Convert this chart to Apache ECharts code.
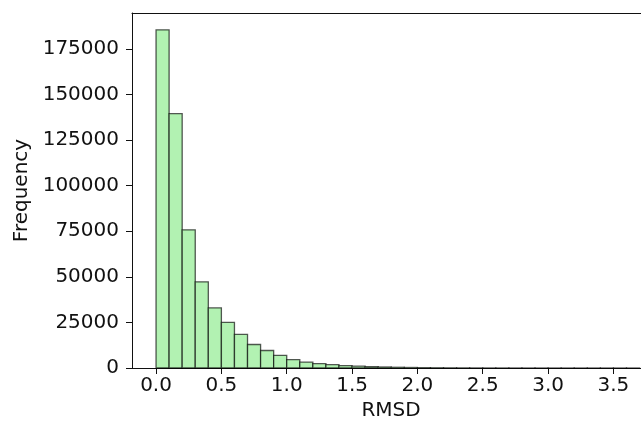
<!DOCTYPE html>
<html>
<head>
<meta charset="utf-8">
<script src="https://cdn.jsdelivr.net/npm/echarts@6/dist/echarts.min.js"></script>
<style>
  html, body { margin: 0; padding: 0; background: #fff; }
  #main { width: 641px; height: 425px; }
</style>
</head>
<body>
<div id="main"></div>
<script>
var myChart = echarts.init(document.getElementById('main'));

// histogram of RMSD, bins of width 0.1 starting at 0
var binWidth = 0.1
var binCounts = [
	185500, 139500, 75800, 47300, 33000, 25000, 18400, 12900, 9600, 6900,
	4600, 3200, 2400, 1800, 1350, 1000, 760, 560, 400, 290,
	200, 140, 95, 65, 45, 30, 20, 14, 10, 7,
	5, 3, 2, 2, 1, 1, 1
]
var xTickValues = [0, 0.5, 1.0, 1.5, 2.0, 2.5, 3.0, 3.5]
var yTickValues = [0, 25000, 50000, 75000, 100000, 125000, 150000, 175000]

var bins = []
for (let i = 0; i < binCounts.length; i++) {
	bins.push([i * binWidth, (i + 1) * binWidth, binCounts[i]])
}

var font = 'DejaVu Sans'
var xMin = -0.184
var xMax = 3.711  // the plot is cut off at the right edge of the picture

var option = {
	backgroundColor: '#fff',
	animation: false,
	grid: {
		left: 132,
		top: 13,
		right: 0,
		height: 355,
		outerBoundsMode: 'none',
		show: false
	},
	xAxis: [{
		type: 'value',
		min: xMin,
		max: xMax,
		name: 'RMSD',
		nameLocation: 'middle',
		nameGap: 33,
		nameTextStyle: { fontFamily: font, fontSize: 20, color: '#111', padding: [0, 0, 0, 9] },
		splitLine: { show: false },
		axisLine: { show: true, onZero: false, lineStyle: { color: '#111', width: 1 } },
		axisTick: { show: true, length: 6, lineStyle: { color: '#111' }, customValues: xTickValues },
		axisLabel: {
			fontFamily: font, fontSize: 20, color: '#111', margin: 8,
			customValues: xTickValues,
			formatter: function (v) { return v.toFixed(1) }
		}
	}, {
		// top spine only
		type: 'value',
		position: 'top',
		min: xMin,
		max: xMax,
		splitLine: { show: false },
		axisLine: { show: true, onZero: false, lineStyle: { color: '#111', width: 1 } },
		axisTick: { show: false },
		axisLabel: { show: false }
	}],
	yAxis: {
		type: 'value',
		min: 0,
		max: 194750,
		name: 'Frequency',
		nameLocation: 'middle',
		nameGap: 100,
		nameTextStyle: { fontFamily: font, fontSize: 20, color: '#111' },
		splitLine: { show: false },
		axisLine: { show: true, onZero: false, lineStyle: { color: '#111', width: 1 } },
		axisTick: { show: true, length: 6, lineStyle: { color: '#111' }, customValues: yTickValues },
		axisLabel: {
			fontFamily: font, fontSize: 20, color: '#111', margin: 13,
			customValues: yTickValues,
			formatter: function (v) { return String(v) }
		}
	},
	series: [
		{
			type: 'custom',
			xAxisIndex: 0,
			data: bins,
			renderItem: function (params, api) {
				var p0 = api.coord([api.value(0), 0])
				var p1 = api.coord([api.value(1), api.value(2)])
				return {
					type: 'rect',
					shape: { x: p0[0], y: p1[1], width: p1[0] - p0[0], height: p0[1] - p1[1] },
					style: { fill: '#b2f2b2', stroke: 'rgba(0,0,0,0.65)', lineWidth: 1.3 }
				}
			}
		}
	]
};

myChart.setOption(option)
</script>
</body>
</html>
